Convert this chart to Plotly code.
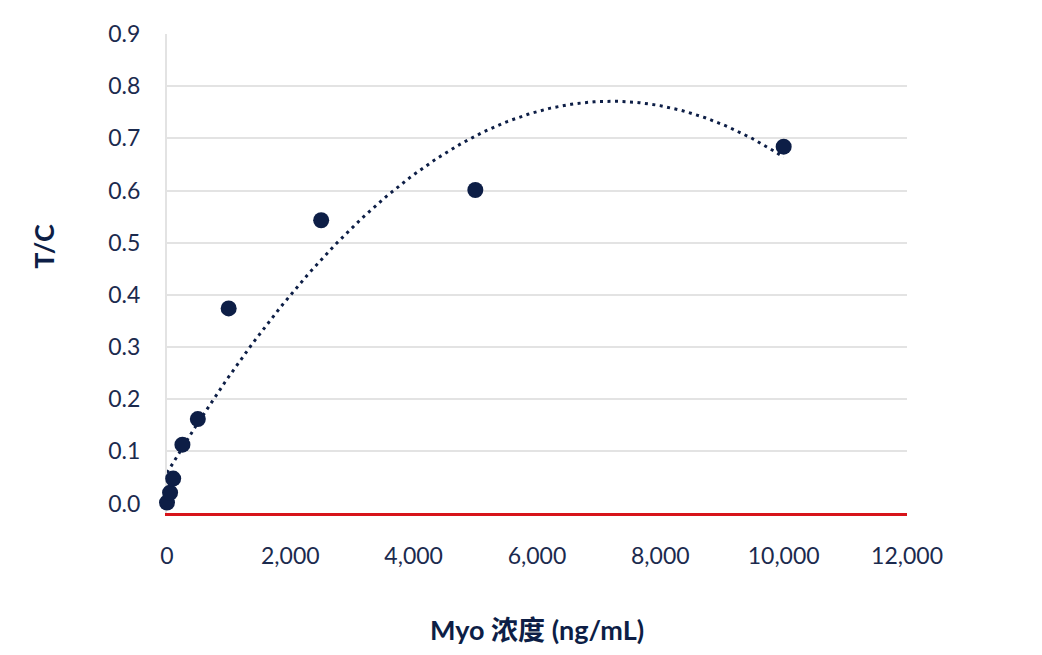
import numpy as np
import plotly.graph_objects as go

# Data
conc = [0, 50, 100, 250, 500, 1000, 2500, 5000, 10000]          # Myo concentration (ng/mL)
tc = [0.002, 0.021, 0.048, 0.113, 0.162, 0.374, 0.543, 0.601, 0.684]  # T/C ratio
x_ticks = [0, 2000, 4000, 6000, 8000, 10000, 12000]
y_ticks = [0.0, 0.1, 0.2, 0.3, 0.4, 0.5, 0.6, 0.7, 0.8, 0.9]
y_ticktext = ["0.0", "0.1", "0.2", "0.3", "0.4", "0.5", "0.6", "0.7", "0.8", "0.9"]

NAVY = "#0D1E46"
TXT = "#1B2A4E"
FONT = "Lato, 'Noto Sans CJK SC', sans-serif"

# 2nd-order polynomial trendline (least squares fit of the data, like the spreadsheet)
coef = np.polyfit(conc, tc, 2)
xs = np.linspace(min(conc), max(conc), 300)
ys = np.polyval(coef, xs)

fig = go.Figure()
fig.add_trace(go.Scatter(
    x=xs, y=ys, mode="lines",
    line=dict(color=NAVY, width=3, dash="3px,4.5px"),
    hoverinfo="skip", showlegend=False, cliponaxis=False,
))
fig.add_trace(go.Scatter(
    x=conc, y=tc, mode="markers",
    marker=dict(color=NAVY, size=16, line=dict(width=0)),
    showlegend=False, cliponaxis=False,
))
# invisible trace on overlay axis so gridlines (without 0.0) get drawn
fig.add_trace(go.Scatter(x=[None], y=[None], yaxis="y2", showlegend=False))

# page body has an 8px margin -> compensate so the plot area lands at 167..907 / 34..513
fig.update_layout(
    width=1042, height=655,
    margin=dict(l=159, r=143, t=26, b=150),
    paper_bgcolor="white", plot_bgcolor="white",
    font=dict(family=FONT, color=TXT, size=23),
    xaxis=dict(
        range=[0, 12000], tickvals=x_ticks, tickformat=",",
        showgrid=False, zeroline=False,
        showline=True, linecolor="#D7141A", linewidth=3,
        ticks="", ticklabelstandoff=20, layer="below traces",
        tickfont=dict(size=23, color=TXT, family=FONT),
    ),
    yaxis=dict(
        range=[-0.018, 0.9], tickvals=y_ticks, ticktext=y_ticktext,
        showgrid=False, zeroline=False,
        showline=True, linecolor="#E3E3E3", linewidth=2,
        ticks="", ticklabelstandoff=20, layer="below traces",
        tickfont=dict(size=23, color=TXT, family=FONT),
    ),
    yaxis2=dict(
        range=[-0.018, 0.9], tickvals=y_ticks[1:], overlaying="y",
        showgrid=True, gridcolor="#E3E3E3", gridwidth=2,
        showticklabels=False, zeroline=False, showline=False,
        layer="below traces",
    ),
    annotations=[
        dict(text="<b>T/C</b>", xref="paper", yref="paper",
             x=(44 - 167) / 740, y=(513.3 - 247) / 479,
             xanchor="center", yanchor="middle", textangle=-90,
             showarrow=False, font=dict(size=27, color=NAVY, family=FONT)),
        dict(text="<b>Myo 浓度 (ng/mL)</b>", xref="paper", yref="paper",
             x=0.5, y=(513.3 - 630) / 479,
             xanchor="center", yanchor="middle",
             showarrow=False, font=dict(size=27, color=NAVY, family=FONT)),
    ],
)

fig.write_html("out.html")
